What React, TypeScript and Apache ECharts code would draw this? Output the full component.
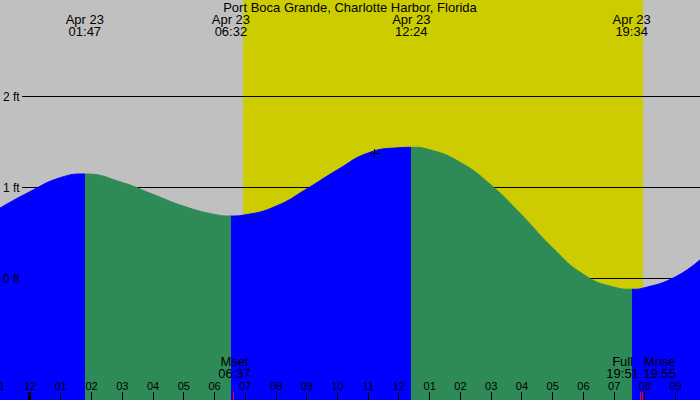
import React, { useEffect, useRef } from "react";
import * as echarts from "echarts";

const stationName = "Port Boca Grande, Charlotte Harbor, Florida";
const dateLabel = "Apr 23";

// hours measured from Apr 23 00:00
const axisStartHour = -0.976;
const axisEndHour = 21.789;
const heightMin = -1.33;
const heightMax = 3.066;

const tideHours = [-0.976, 0, 1, 1.783, 3, 4, 5, 6, 6.533, 7, 8, 9, 10, 11, 12, 12.4, 13, 14, 15, 16, 17, 18, 19, 19.567, 20, 21, 21.789];
const tideFeet = [0.78, 0.96, 1.115, 1.154, 1.06, 0.93, 0.8, 0.71, 0.692, 0.705, 0.8, 0.99, 1.2, 1.385, 1.442, 1.447, 1.42, 1.28, 1.03, 0.7, 0.34, 0.05, -0.09, -0.113, -0.095, 0.025, 0.21];

const extremeTimes = ["01:47", "06:32", "12:24", "19:34"];
const extremeKinds = ["high", "low", "high", "low"];

const sunriseTime = "06:56";
const sunsetTime = "19:57";

const moonEventNames = ["Mset", "Full", "Mrise"];
const moonEventTimes = ["06:37", "19:51", "19:55"];

const levelFeet = [0, 1, 2];
const levelLabels = ["0 ft", "1 ft", "2 ft"];

const hourTicks = [-1, 0, 1, 2, 3, 4, 5, 6, 7, 8, 9, 10, 11, 12, 13, 14, 15, 16, 17, 18, 19, 20, 21];
const hourLabels = ["11", "12", "01", "02", "03", "04", "05", "06", "07", "08", "09", "10", "11", "12", "01", "02", "03", "04", "05", "06", "07", "08", "09"];

const markerTime = "11:12";
const markerFeet = 1.38;

const COLORS = {
  night: "#c0c0c0",
  day: "#cccc00",
  rising: "#0000ff",
  falling: "#2e8b57",
  text: "#000000",
  moon: "#ff0000",
};
const FONT = '"Liberation Sans", Arial, sans-serif';

const toHours = (t: string) => {
  const [h, m] = t.split(":").map(Number);
  return h + m / 60;
};

let measureCtx: CanvasRenderingContext2D | null = null;
const measure = (text: string, size: number) => {
  if (!measureCtx) measureCtx = document.createElement("canvas").getContext("2d");
  if (!measureCtx) return text.length * size * 0.55;
  measureCtx.font = `${size}px ${FONT}`;
  return measureCtx.measureText(text).width;
};

function buildOption() {
  const extremeHours = extremeTimes.map(toHours);
  const pieces: any[] = [];
  let prev = -100;
  extremeHours.forEach((h, i) => {
    const color = extremeKinds[i] === "high" ? COLORS.rising : COLORS.falling;
    pieces.push({ gte: prev, lt: h, color });
    prev = h;
  });
  pieces.push({
    gte: prev,
    lt: 100,
    color: extremeKinds[extremeKinds.length - 1] === "low" ? COLORS.rising : COLORS.falling,
  });

  const moonHours = moonEventTimes.map(toHours);

  return {
    animation: false,
    backgroundColor: COLORS.night,
    grid: { left: 0, right: 0, top: 0, bottom: 0, containLabel: false },
    xAxis: { type: "value", min: axisStartHour, max: axisEndHour, show: false },
    yAxis: { type: "value", min: heightMin, max: heightMax, show: false },
    visualMap: {
      type: "piecewise",
      show: false,
      dimension: 0,
      seriesIndex: 2,
      pieces,
    },
    series: [
      {
        type: "custom",
        z: 0,
        silent: true,
        data: [[toHours(sunriseTime), toHours(sunsetTime)]],
        renderItem: (params: any, api: any) => {
          const p0 = api.coord([api.value(0), heightMax]);
          const p1 = api.coord([api.value(1), heightMin]);
          return {
            type: "rect",
            shape: { x: Math.round(p0[0]), y: p0[1], width: Math.round(p1[0]) - Math.round(p0[0]), height: p1[1] - p0[1] },
            style: { fill: COLORS.day },
          };
        },
      },
      {
        type: "custom",
        z: 1,
        silent: true,
        data: levelFeet.map((v) => [axisStartHour, v]),
        renderItem: (params: any, api: any) => {
          const p = api.coord([axisStartHour, api.value(1)]);
          const pe = api.coord([axisEndHour, api.value(1)]);
          const y = Math.floor(p[1]) + 0.5;
          return {
            type: "line",
            shape: { x1: p[0] + 22, y1: y, x2: pe[0], y2: y },
            style: { stroke: COLORS.text, lineWidth: 1 },
          };
        },
      },
      {
        type: "line",
        z: 2,
        silent: true,
        data: tideHours.map((h, i) => [h, tideFeet[i]]),
        smooth: 0.5,
        showSymbol: false,
        symbol: "none",
        lineStyle: { width: 1 },
        areaStyle: { opacity: 1, origin: "start" },
      },
      {
        type: "custom",
        z: 3,
        silent: true,
        data: [[toHours(markerTime), markerFeet]],
        renderItem: (params: any, api: any) => {
          const p = api.coord([api.value(0), api.value(1)]);
          const x = Math.floor(p[0]) + 0.5;
          const y = Math.floor(p[1]) + 0.5;
          return {
            type: "group",
            children: [
              { type: "line", shape: { x1: x - 4.5, y1: y, x2: x + 4.5, y2: y }, style: { stroke: COLORS.text, lineWidth: 1 } },
              { type: "line", shape: { x1: x, y1: y - 4.5, x2: x, y2: y + 4.5 }, style: { stroke: COLORS.text, lineWidth: 1 } },
            ],
          };
        },
      },
      {
        // level labels
        type: "custom",
        z: 4,
        silent: true,
        data: levelFeet.map((v) => [axisStartHour, v]),
        renderItem: (params: any, api: any) => {
          const p = api.coord([axisStartHour, api.value(1)]);
          return {
            type: "text",
            style: {
              x: p[0] + 3,
              y: p[1],
              text: levelLabels[params.dataIndex],
              fill: COLORS.text,
              fontSize: 12,
              fontFamily: FONT,
              align: "left",
              verticalAlign: "middle",
            },
          };
        },
      },
      {
        // hour ticks and labels
        type: "custom",
        z: 4,
        silent: true,
        data: hourTicks.map((h) => [h, heightMin]),
        renderItem: (params: any, api: any) => {
          const h = api.value(0);
          const p = api.coord([h, heightMin]);
          const xf = Math.floor(p[0]);
          const midnight = h % 24 === 0;
          return {
            type: "group",
            children: [
              {
                type: "rect",
                shape: { x: midnight ? xf - 2 : xf, y: p[1] - 8, width: midnight ? 3 : 1, height: 8 },
                style: { fill: COLORS.text },
              },
              {
                type: "text",
                style: {
                  x: p[0],
                  y: p[1] - 14.5,
                  text: hourLabels[params.dataIndex],
                  fill: COLORS.text,
                  fontSize: 11,
                  fontFamily: FONT,
                  align: "center",
                  verticalAlign: "middle",
                },
              },
            ],
          };
        },
      },
      {
        // tide extreme labels at top
        type: "custom",
        z: 4,
        silent: true,
        data: extremeHours.map((h) => [h, heightMax]),
        renderItem: (params: any, api: any) => {
          const p = api.coord([api.value(0), heightMax]);
          return {
            type: "text",
            style: {
              x: p[0],
              y: p[1] + 25.25,
              text: dateLabel + "\n" + extremeTimes[params.dataIndex],
              lineHeight: 11.5,
              fill: COLORS.text,
              fontSize: 13,
              fontFamily: FONT,
              align: "center",
              verticalAlign: "middle",
            },
          };
        },
      },
      {
        // moon events
        type: "custom",
        z: 5,
        silent: true,
        data: moonHours.map((h) => [h, heightMin]),
        renderItem: (params: any, api: any) => {
          const i = params.dataIndex;
          const h = api.value(0);
          const p = api.coord([h, heightMin]);
          const xf = Math.floor(p[0]);
          const closeNext = i < moonHours.length - 1 && moonHours[i + 1] - h < 0.5;
          const closePrev = i > 0 && h - moonHours[i - 1] < 0.5;
          const w = Math.max(measure(moonEventNames[i], 13), measure(moonEventTimes[i], 13));
          let cx = p[0] + 1;
          if (closeNext) cx = p[0] - 1.5 - w / 2;
          else if (closePrev) cx = p[0] + 1 + w / 2;
          return {
            type: "group",
            children: [
              { type: "rect", shape: { x: xf, y: p[1] - 8, width: 1, height: 8 }, style: { fill: COLORS.moon } },
              {
                type: "text",
                style: {
                  x: cx,
                  y: p[1] - 32.4,
                  text: moonEventNames[i] + "\n" + moonEventTimes[i],
                  lineHeight: 12.3,
                  fill: COLORS.text,
                  fontSize: 13,
                  fontFamily: FONT,
                  align: "center",
                  verticalAlign: "middle",
                },
              },
            ],
          };
        },
      },
    ],
    graphic: [
      {
        type: "text",
        left: "center",
        top: 1,
        style: { text: stationName, fill: COLORS.text, fontSize: 13, fontFamily: FONT },
        z: 10,
      },
    ],
  };
}

export default function App() {
  const ref = useRef<HTMLDivElement>(null);
  useEffect(() => {
    if (!ref.current) return;
    const chart = echarts.init(ref.current, null, { renderer: "svg" });
    chart.setOption(buildOption() as any);
    return () => chart.dispose();
  }, []);
  return (
    <div
      ref={ref}
      style={{ position: "fixed", left: 0, top: 0, width: 700, height: 400 }}
    />
  );
}
